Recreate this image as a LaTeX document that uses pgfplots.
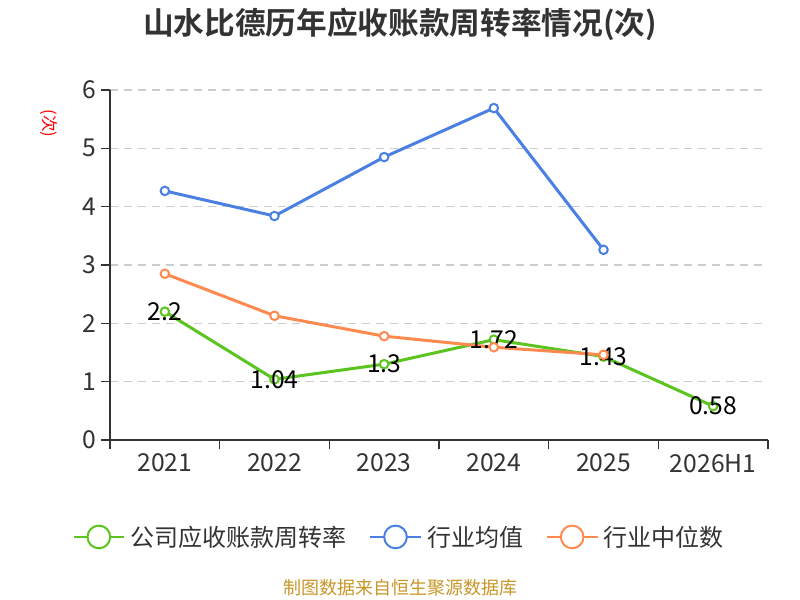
\documentclass[border=0pt]{standalone}
\usepackage{pgfplots}
\pgfplotsset{compat=1.18}
\usepackage{fontspec}
\setmainfont{Noto Sans CJK SC}[BoldFont={Noto Sans CJK SC Bold}]
\definecolor{cgreen}{RGB}{91,196,30}
\definecolor{cblue}{RGB}{74,128,226}
\definecolor{corange}{RGB}{255,138,80}
\definecolor{axisgray}{RGB}{51,51,51}
\definecolor{gridgray}{RGB}{204,204,204}
\definecolor{srcgold}{RGB}{200,150,40}
\begin{document}
\begin{tikzpicture}
\path[use as bounding box] (0,0) rectangle (600pt,450pt);
\begin{axis}[
  at={(82.5pt,120pt)}, anchor=south west,
  scale only axis, width=493.5pt, height=262.5pt,
  xmin=-0.5, xmax=5.5, ymin=0, ymax=6,
  axis lines=left,
  axis line style={-, draw=axisgray, line width=1.1pt},
  xtick={-0.5,0.5,1.5,2.5,3.5,4.5,5.5},
  x tick label as interval,
  xticklabels={2021,2022,2023,2024,2025,2026H1},
  ytick={0,1,2,3,4,5,6},
  tick align=outside,
  major tick length=7pt,
  tick style={draw=axisgray, line width=1.1pt},
  ymajorgrids,
  grid style={draw=gridgray, line width=1.1pt, dash pattern=on 6pt off 4.5pt},
  ticklabel style={font=\fontsize{18.5}{18.5}\selectfont, text=axisgray},
  /pgf/number format/assume math mode=true,
  clip=false,
  legend style={at={(0.44,-0.277)}, anchor=center, draw=none, fill=none,
    font=\fontsize{18}{18}\selectfont, text=axisgray,
    /tikz/every even column/.append style={column sep=15pt},
    /tikz/every odd column/.append style={column sep=2pt}},
  legend columns=3,
  legend cell align=left,
  legend image code/.code={
    \draw[line width=1.5pt] (0pt,0pt) -- (38pt,0pt);
    \draw[line width=1.5pt, fill=white] (19pt,0pt) circle (8.5pt);
  },
  every axis plot/.append style={line width=2.25pt, mark=*, mark size=3.2pt,
    mark options={fill=white, line width=1.5pt, solid}},
]
\addplot[draw=cgreen, point meta=explicit symbolic, nodes near coords,
  every node near coord/.append style={anchor=center, font=\fontsize{18.5}{18.5}\selectfont, text=black}]
  coordinates {(0,2.2)[2.2] (1,1.04)[1.04] (2,1.3)[1.3] (3,1.72)[1.72] (4,1.43)[1.43] (5,0.58)[0.58]};
\addlegendentry{公司应收账款周转率}
\addplot[draw=cblue] coordinates {(0,4.27) (1,3.84) (2,4.85) (3,5.69) (4,3.26)};
\addlegendentry{行业均值}
\addplot[draw=corange] coordinates {(0,2.85) (1,2.13) (2,1.78) (3,1.59) (4,1.46)};
\addlegendentry{行业中位数}
\end{axis}
\node[font=\bfseries\fontsize{23}{23}\selectfont, text=axisgray] at (300pt,432pt) {山水比德历年应收账款周转率情况(次)};
\node[rotate=-90, font=\fontsize{12.5}{12.5}\selectfont, text=red] at (36.75pt,357.4pt) {(次)};
\node[font=\fontsize{13.5}{13.5}\selectfont, text=srcgold] at (300pt,9pt) {制图数据来自恒生聚源数据库};
\end{tikzpicture}
\end{document}
